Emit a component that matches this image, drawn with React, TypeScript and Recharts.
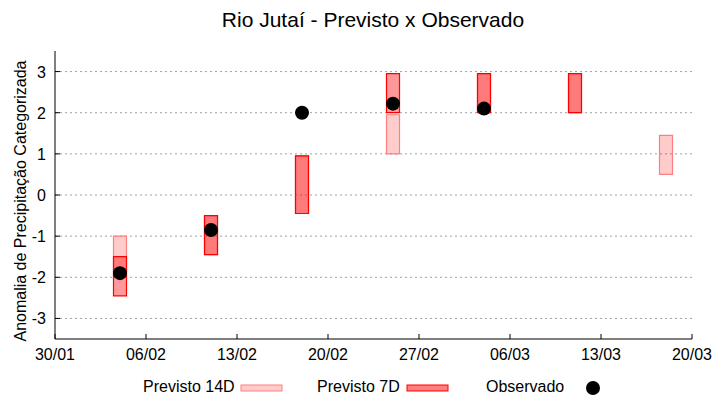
import React from 'react';
import { ComposedChart, Bar, Scatter, XAxis, YAxis, CartesianGrid } from 'recharts';

// dias contados a partir de 30/01
const days = [5, 12, 19, 26, 33, 40, 47];
const prev14Low = [-2.0, -1.45, -0.45, 1.0, 2.0, 2.0, 0.5];
const prev14High = [-1.0, -0.5, 0.95, 1.95, 2.95, 2.95, 1.45];
const prev7Low = [-2.45, -1.45, -0.45, 2.0, 2.0, 2.0, null];
const prev7High = [-1.5, -0.5, 0.95, 2.95, 2.95, 2.95, null];
const obsDays = [5, 12, 19, 26, 33];
const observado = [-1.9, -0.85, 2.0, 2.22, 2.1];

const xTicks = [0, 7, 14, 21, 28, 35, 42, 49];
const xTickLabels = ['30/01', '06/02', '13/02', '20/02', '27/02', '06/03', '13/03', '20/03'];
const yTicks = [-3, -2, -1, 0, 1, 2, 3];

const data = days.map((d, i) => ({
  day: d,
  p14: [prev14Low[i], prev14High[i]],
  p7: prev7Low[i] == null ? null : [prev7Low[i], prev7High[i]],
}));
const obsData = obsDays.map((d, i) => ({ day: d, obs: observado[i] }));

const FONT = '"Liberation Sans", Arial, sans-serif';

const BottomTick = (props: any) => {
  const { x, y, payload } = props;
  const idx = xTicks.indexOf(payload.value);
  return (
    <g>
      <line x1={x} y1={y} x2={x} y2={y - 5} stroke="#000" />
      <text x={x} y={y + 21} textAnchor="middle" fontSize={16} fontFamily={FONT} fill="#000">
        {xTickLabels[idx]}
      </text>
    </g>
  );
};

const TopTick = (props: any) => {
  const { x, y } = props;
  return <line x1={x} y1={y} x2={x} y2={y + 5} stroke="#000" />;
};

const LeftTick = (props: any) => {
  const { x, y, payload } = props;
  return (
    <g>
      <line x1={x} y1={y} x2={x + 5} y2={y} stroke="#000" />
      <text x={x - 9} y={y + 6} textAnchor="end" fontSize={16} fontFamily={FONT} fill="#000">
        {payload.value}
      </text>
    </g>
  );
};

const RightTick = (props: any) => {
  const { x, y } = props;
  return <line x1={x} y1={y} x2={x - 5} y2={y} stroke="#000" />;
};

const YLabel = () => (
  <text
    x={25.5}
    y={201}
    transform="rotate(-90 25.5 201)"
    textAnchor="middle"
    fontSize={16}
    fontFamily={FONT}
    fill="#000"
  >
    Anomalia de Precipitação Categorizada
  </text>
);

const Dot = (p: any) => <circle cx={p.cx} cy={p.cy} r={7} fill="#000" />;

export default function App() {
  return (
    <div style={{ position: 'absolute', left: 0, top: 0, width: 720, height: 400, background: '#fff' }}>
      <ComposedChart
        width={720}
        height={400}
        data={data}
        margin={{ top: 51, right: 28, left: 0, bottom: 0 }}
      >
        <CartesianGrid
          xAxisId="a"
          yAxisId="left"
          vertical={false}
          horizontalValues={yTicks}
          stroke="#a0a0a0"
          strokeDasharray="2 3"
        />
        <XAxis
          xAxisId="a"
          dataKey="day"
          type="number"
          domain={[0, 49]}
          ticks={xTicks}
          interval={0}
          height={61}
          tickSize={0}
          tickMargin={0}
          tickLine={false}
          axisLine={{ stroke: '#000' }}
          tick={<BottomTick />}
        />
        <XAxis xAxisId="b" dataKey="day" type="number" domain={[0, 49]} ticks={xTicks} hide />
        <XAxis
          xAxisId="top"
          orientation="top"
          type="number"
          domain={[0, 49]}
          ticks={xTicks}
          interval={0}
          height={0}
          tickSize={0}
          tickMargin={0}
          tickLine={false}
          axisLine={{ stroke: '#000' }}
          tick={<TopTick />}
        />
        <YAxis
          yAxisId="left"
          type="number"
          domain={[-3.5, 3.5]}
          ticks={yTicks}
          interval={0}
          width={55}
          tickSize={0}
          tickMargin={0}
          tickLine={false}
          axisLine={{ stroke: '#000' }}
          tick={<LeftTick />}
          label={<YLabel />}
        />
        <YAxis
          yAxisId="right"
          orientation="right"
          type="number"
          domain={[-3.5, 3.5]}
          ticks={yTicks}
          interval={0}
          width={0}
          tickSize={0}
          tickMargin={0}
          tickLine={false}
          axisLine={{ stroke: '#000' }}
          tick={<RightTick />}
        />
        <Bar
          xAxisId="a"
          yAxisId="left"
          dataKey="p14"
          barSize={13}
          fill="rgba(255,0,0,0.2)"
          stroke="#ff7f7f"
          strokeWidth={1.2}
          isAnimationActive={false}
        />
        <Bar
          xAxisId="b"
          yAxisId="left"
          dataKey="p7"
          barSize={13}
          fill="rgba(255,0,0,0.4)"
          stroke="#ff0000"
          strokeWidth={1.2}
          isAnimationActive={false}
        />
        <Scatter
          xAxisId="a"
          yAxisId="left"
          data={obsData}
          dataKey="obs"
          shape={<Dot />}
          isAnimationActive={false}
        />
      </ComposedChart>
      <svg
        width={720}
        height={400}
        style={{ position: 'absolute', left: 0, top: 0, pointerEvents: 'none' }}
      >
        <text x={373} y={27} textAnchor="middle" fontSize={21} fontFamily={FONT} fill="#000">
          Rio Jutaí - Previsto x Observado
        </text>
        <g fontSize={16} fontFamily={FONT} fill="#000">
          <text x={143} y={392}>Previsto 14D</text>
          <rect x={241} y={385} width={41} height={6} fill="rgba(255,0,0,0.2)" stroke="#ff7f7f" />
          <text x={317} y={392}>Previsto 7D</text>
          <rect x={407} y={385} width={41} height={6} fill="rgba(255,0,0,0.5)" stroke="#ff0000" />
          <text x={486} y={392}>Observado</text>
          <circle cx={593} cy={388} r={7} fill="#000" />
        </g>
      </svg>
    </div>
  );
}
